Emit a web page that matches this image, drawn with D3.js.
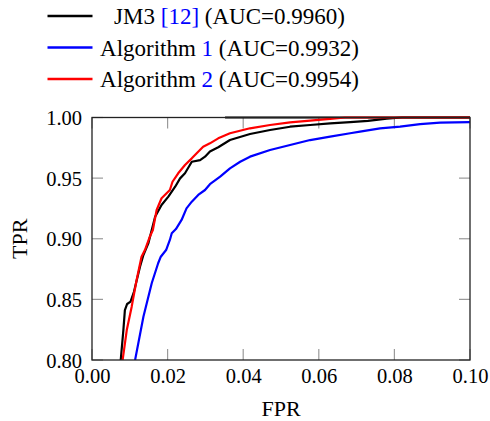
<!DOCTYPE html>
<html>
<head>
<meta charset="utf-8">
<script src="https://cdn.jsdelivr.net/npm/d3@7"></script>
<style>
  body { margin: 0; background: #fff; }
  svg { display: block; }
  svg text { font-family: "Liberation Serif", "Tinos", "DejaVu Serif", serif !important; fill: #000; }
</style>
</head>
<body>
<svg id="chart" width="490" height="421"></svg>
<script>
// ---- data ----
const xTicks = [0.00, 0.02, 0.04, 0.06, 0.08, 0.10];
const yTicks = [0.80, 0.85, 0.90, 0.95, 1.00];

const jm3Fpr = [0.0076, 0.0083, 0.0087, 0.0093, 0.0102, 0.0111, 0.0127, 0.0136, 0.0149, 0.0158, 0.0167, 0.0184, 0.0202, 0.0220, 0.0233, 0.0246, 0.0264, 0.0286, 0.0299, 0.0312, 0.0334, 0.0365, 0.0418, 0.0471, 0.0524, 0.0577, 0.0630, 0.0683, 0.0730, 0.0780, 0.0820, 0.1000];
const jm3Tpr = [0.800, 0.8247, 0.8412, 0.8462, 0.8481, 0.8563, 0.8769, 0.8866, 0.8962, 0.9072, 0.9182, 0.9278, 0.9347, 0.9429, 0.9498, 0.9540, 0.9635, 0.9649, 0.9677, 0.9720, 0.9755, 0.9814, 0.9864, 0.9897, 0.9924, 0.9938, 0.9952, 0.9962, 0.9972, 0.9990, 1.0000, 1.0000];
const jm3TopFpr = [0.0352, 0.1000];
const jm3TopTpr = [1.0000, 1.0000];

const alg1Fpr = [0.0114, 0.0136, 0.0158, 0.0175, 0.0182, 0.0196, 0.0206, 0.0211, 0.0222, 0.0237, 0.0250, 0.0264, 0.0281, 0.0299, 0.0312, 0.0339, 0.0365, 0.0392, 0.0418, 0.0471, 0.0524, 0.0577, 0.0630, 0.0683, 0.0709, 0.0762, 0.0815, 0.0868, 0.0921, 0.0960, 0.1000];
const alg1Tpr = [0.800, 0.8357, 0.8633, 0.8798, 0.8852, 0.8907, 0.8990, 0.9045, 0.9080, 0.9155, 0.9251, 0.9306, 0.9361, 0.9402, 0.9450, 0.9512, 0.9581, 0.9635, 0.9677, 0.9732, 0.9773, 0.9814, 0.9842, 0.9870, 0.9883, 0.9911, 0.9924, 0.9946, 0.9957, 0.9960, 0.9962];

const alg2Fpr = [0.0081, 0.0092, 0.0105, 0.0118, 0.0131, 0.0140, 0.0153, 0.0161, 0.0171, 0.0184, 0.0206, 0.0213, 0.0228, 0.0246, 0.0264, 0.0277, 0.0294, 0.0312, 0.0334, 0.0365, 0.0418, 0.0471, 0.0524, 0.0577, 0.0630, 0.0670, 0.1000];
const alg2Tpr = [0.800, 0.8247, 0.8440, 0.8660, 0.8852, 0.8907, 0.9017, 0.9072, 0.9237, 0.9334, 0.9402, 0.9470, 0.9540, 0.9608, 0.9663, 0.9705, 0.9759, 0.9787, 0.9828, 0.9870, 0.9911, 0.9938, 0.9960, 0.9974, 0.9988, 1.0000, 1.0000];

const legendNames = ["JM3 ", "Algorithm ", "Algorithm "];
const legendRefs = ["[12]", "1", "2"];
const legendAuc = [" (AUC=0.9960)", " (AUC=0.9932)", " (AUC=0.9954)"];
const legendColors = ["#000000", "#0000ff", "#ff0000"];

// ---- layout ----
const svg = d3.select("#chart");
const FONT = '"Liberation Serif", "Tinos", "DejaVu Serif", serif';
const mLeft = 92, mRight = 470, mTop = 117.5, mBottom = 360;
const x = d3.scaleLinear().domain([0, 0.1]).range([mLeft, mRight]);
const y = d3.scaleLinear().domain([0.8, 1.0]).range([mBottom, mTop]);

svg.append("defs").append("clipPath").attr("id", "clip")
  .append("rect").attr("x", mLeft).attr("y", mTop - 2).attr("width", mRight - mLeft).attr("height", mBottom - mTop + 2);

// ticks (inward, on all four sides)
const tickLen = 11, tickColor = "#9a9a9a";
const tg = svg.append("g");
xTicks.forEach(t => {
  tg.append("line").attr("x1", x(t)).attr("x2", x(t)).attr("y1", mBottom).attr("y2", mBottom - tickLen)
    .attr("stroke", tickColor).attr("stroke-width", 1.2);
  tg.append("line").attr("x1", x(t)).attr("x2", x(t)).attr("y1", mTop).attr("y2", mTop + tickLen)
    .attr("stroke", tickColor).attr("stroke-width", 1.2);
});
yTicks.forEach(t => {
  tg.append("line").attr("x1", mLeft).attr("x2", mLeft + tickLen).attr("y1", y(t)).attr("y2", y(t))
    .attr("stroke", tickColor).attr("stroke-width", 1.2);
  tg.append("line").attr("x1", mRight).attr("x2", mRight - tickLen).attr("y1", y(t)).attr("y2", y(t))
    .attr("stroke", tickColor).attr("stroke-width", 1.2);
});

// axis labels via d3 axes (labels only)
const xAxis = d3.axisBottom(x).tickValues(xTicks).tickFormat(d3.format(".2f")).tickSize(0).tickPadding(0);
const xg = svg.append("g").attr("transform", `translate(0,${mBottom})`).call(xAxis)
  .attr("font-family", FONT);
xg.select(".domain").remove();
xg.selectAll("text").attr("font-size", 20.5).attr("dy", null).attr("y", 23).attr("fill", "#000");

const yAxis = d3.axisLeft(y).tickValues(yTicks).tickFormat(d3.format(".2f")).tickSize(0).tickPadding(0);
const yg = svg.append("g").attr("transform", `translate(${mLeft},0)`).call(yAxis)
  .attr("font-family", FONT);
yg.select(".domain").remove();
yg.selectAll("text").attr("font-size", 20.5).attr("x", -10).attr("dy", "0.35em").attr("fill", "#000");

// series
const line = d3.line().x(d => x(d[0])).y(d => y(d[1]));
const plot = svg.append("g").attr("clip-path", "url(#clip)");
const series = [
  { f: jm3TopFpr, t: jm3TopTpr, c: legendColors[0] },
  { f: jm3Fpr, t: jm3Tpr, c: legendColors[0] },
  { f: alg1Fpr, t: alg1Tpr, c: legendColors[1] },
  { f: alg2Fpr, t: alg2Tpr, c: legendColors[2] }
];
series.forEach(s => {
  plot.append("path").datum(d3.zip(s.f, s.t)).attr("d", line)
    .attr("fill", "none").attr("stroke", s.c).attr("stroke-width", 2.2).attr("stroke-linejoin", "round");
});

// frame
svg.append("rect").attr("x", mLeft).attr("y", mTop).attr("width", mRight - mLeft).attr("height", mBottom - mTop)
  .attr("fill", "none").attr("stroke", "#222").attr("stroke-width", 1.3);

// axis titles
svg.append("text").attr("x", (mLeft + mRight) / 2).attr("y", 416).attr("text-anchor", "middle")
  .attr("font-family", FONT).attr("font-size", 22).text("FPR");
svg.append("text").attr("transform", `translate(27,${(mTop + mBottom) / 2}) rotate(-90)`)
  .attr("font-family", FONT).attr("text-anchor", "middle").attr("font-size", 22).text("TPR");

// legend
const legRows = [16, 47.5, 79];
legendNames.forEach((n, i) => {
  svg.append("line").attr("x1", 47.5).attr("x2", 92.5).attr("y1", legRows[i]).attr("y2", legRows[i])
    .attr("stroke", legendColors[i]).attr("stroke-width", 2.5);
  const t = svg.append("text").attr("x", 229.5).attr("y", legRows[i]).attr("dy", "0.35em")
    .attr("font-family", FONT).attr("text-anchor", "middle").attr("font-size", 23);
  t.append("tspan").text(n);
  t.append("tspan").style("fill", "#0000ff").text(legendRefs[i]);
  t.append("tspan").text(legendAuc[i]);
});
</script>
</body>
</html>
